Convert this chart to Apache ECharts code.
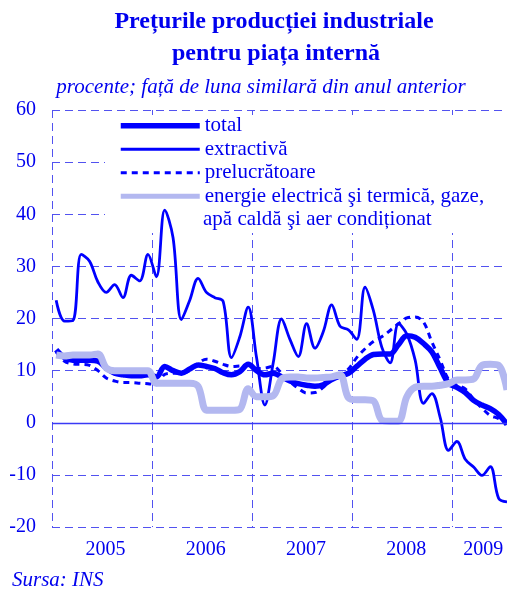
<!DOCTYPE html>
<html><head><meta charset="utf-8">
<script src="https://cdn.jsdelivr.net/npm/echarts@6/dist/echarts.min.js"></script>
<style>html,body{margin:0;padding:0;background:#fff}#c{width:507px;height:591px}</style>
</head><body><div id="c"></div>
<script>
const months = [
 '2005-01','2005-02','2005-03','2005-04','2005-05','2005-06','2005-07','2005-08','2005-09','2005-10','2005-11','2005-12',
 '2006-01','2006-02','2006-03','2006-04','2006-05','2006-06','2006-07','2006-08','2006-09','2006-10','2006-11','2006-12',
 '2007-01','2007-02','2007-03','2007-04','2007-05','2007-06','2007-07','2007-08','2007-09','2007-10','2007-11','2007-12',
 '2008-01','2008-02','2008-03','2008-04','2008-05','2008-06','2008-07','2008-08','2008-09','2008-10','2008-11','2008-12',
 '2009-01','2009-02','2009-03','2009-04','2009-05','2009-06','2009-07'];
const yearLabels = ['2005','2006','2007','2008','2009'];
const yTicks = [-20,-10,0,10,20,30,40,50,60];

const total = [14,12.5,12,12,12,11.8,10.5,9.5,9.2,9.0,9.0,9.2,
 8.8,10.8,10,9.5,10.3,11.1,10.8,10.4,9.6,9.2,9.8,11.2,
 10,9.2,9.5,8.8,8.0,7.5,7.2,7.0,7.3,8.3,9.0,9.5,
 10.8,12.2,13.1,13.2,13.2,15,16.7,16.4,15.2,13.6,10.5,7.6,
 6.8,5.8,4.3,3.4,2.7,1.6,-0.3];
const extractiva = [23.5,19.5,19.6,32.3,31,27,25,26.5,24,28.3,27.2,32.3,
 28,40.8,35.5,19.8,23.5,27.7,25,24,23.3,12.5,16.5,22.2,
 12.5,3.4,11.5,19.9,16,12.7,19,14.3,17.5,22.6,18.5,17.8,
 16,26,21.5,14.5,11.5,19,17,12,3.7,5.6,1,-5.3,
 -3.6,-7,-8.5,-10.1,-8.4,-14.5,-15.2];
const prelucratoare = [13.6,11.8,11.3,11.2,11,10,8.6,8,7.7,7.7,7.6,7.5,
 7.3,9.3,9.5,9.5,10,11.4,12.2,11.8,11.2,10.8,10.9,11,
 10.4,10.5,10.8,9.5,7.9,6.6,5.7,5.8,6.8,8.2,9.2,10.3,
 12.5,14.2,15.6,16.5,17.7,19,20.1,20.3,19.3,15.5,12,8.3,
 7.2,6.5,4.5,2.8,1.4,0.8,-0.3];
const energie = [13,12.8,13,13,13,13.2,10.5,10,10,10,10,10,
 7.6,7.6,7.6,7.6,7.6,7,2.4,2.4,2.4,2.4,2.6,6.5,
 5,5,5.2,8.4,8.8,8.8,8.6,8.6,8.7,8.8,9.2,4.8,
 4.4,4.4,4.2,0.5,0.3,0.3,5,6.8,7,7,7.2,7.5,
 8.2,8.2,8.4,11,11.2,11,6.3];

const names = ['total','extractivă','prelucrătoare','energie electrică şi termică, gaze,\napă caldă şi aer condiționat'];

const FONT = "'Liberation Serif','Times New Roman',serif";
const BLUE = '#0000ff';
const TXT = '#0000ee';
const GRIDC = '#5252f0';
const ENERGY = '#b3b8f0';
const xMax = months.length - 0.5;
const pts = arr => arr.map((v,i)=>[i+0.5, v]);
const yearPos = yearLabels.map(y => {
  const idx = months.map((m,i)=>m.startsWith(y)?i:-1).filter(i=>i>=0);
  return (idx[0] + Math.min(idx[idx.length-1]+1, xMax))/2;
});
const energyLines = names[3].split('\n');

const chart = echarts.init(document.getElementById('c'), null, {renderer:'canvas'});
chart.setOption({
  animation:false,
  backgroundColor:'#fff',
  grid:{left:52, right:0, top:110, bottom:64, containLabel:false},
  xAxis:{type:'value', min:0, max:xMax, interval:12,
    axisLine:{show:false}, axisTick:{show:false},
    splitLine:{show:true, lineStyle:{type:[8,5], color:GRIDC, width:1}},
    axisLabel:{customValues:yearPos, formatter:v=>yearLabels[yearPos.indexOf(v)],
      color:TXT, fontFamily:FONT, fontSize:20, margin:13, padding:[0,0,0,7]}},
  yAxis:{type:'value', min:yTicks[0], max:yTicks[yTicks.length-1], interval:10,
    axisLine:{show:false}, axisTick:{show:false},
    axisLabel:{color:TXT, fontFamily:FONT, fontSize:20, margin:16},
    splitLine:{show:true, lineStyle:{type:[8,5], color:GRIDC, width:1}}},
  legend:{
    data:[names[0], names[1], names[2], {name:names[3], lineStyle:{width:5}}],
    orient:'vertical', left:118, top:114, padding:0, itemGap:0,
    itemWidth:79, itemHeight:14,
    formatter: n => n.split('\n')[0],
    textStyle:{fontFamily:FONT, fontSize:21, color:TXT, lineHeight:23.5},
    lineStyle:{width:'inherit'}, itemStyle:{opacity:0, borderWidth:0}, selectedMode:false},
  graphic:[
    {type:'rect', shape:{x:105, y:115, width:402, height:118}, style:{fill:'#fff'}, z:1, silent:true},
    {type:'text', x:274, y:22, style:{text:'Prețurile producției industriale', font:'bold 24px '+FONT, fill:TXT, textAlign:'center', textVerticalAlign:'middle'}},
    {type:'text', x:276, y:54, style:{text:'pentru piața internă', font:'bold 24px '+FONT, fill:TXT, textAlign:'center', textVerticalAlign:'middle'}},
    {type:'text', x:261, y:87, style:{text:'procente; față de luna similară din anul anterior', font:'italic 21px '+FONT, fill:TXT, textAlign:'center', textVerticalAlign:'middle'}},
    {type:'text', x:203, y:219.5, z:5, style:{text:energyLines[1], font:'21px '+FONT, fill:TXT, textAlign:'left', textVerticalAlign:'middle'}},
    {type:'text', x:12, y:580, style:{text:'Sursa: INS', font:'italic 21px '+FONT, fill:TXT, textAlign:'left', textVerticalAlign:'middle'}}
  ],
  series:[
    {name:names[0], type:'line', data:pts(total), symbol:'none', smooth:0.35, z:3,
     lineStyle:{color:BLUE, width:5.5}, itemStyle:{color:BLUE},
     markLine:{silent:true, symbol:['none','none'], label:{show:false}, data:[{yAxis:0}],
       lineStyle:{type:'solid', color:'#3a3af5', width:1.3}}},
    {name:names[1], type:'line', data:pts(extractiva), symbol:'none', smooth:0.35, z:3,
     lineStyle:{color:BLUE, width:2.8}, itemStyle:{color:BLUE}},
    {name:names[2], type:'line', data:pts(prelucratoare), symbol:'none', smooth:0.35, z:3,
     lineStyle:{color:BLUE, width:3, type:[6,5]}, itemStyle:{color:BLUE}},
    {name:names[3], type:'line', data:pts(energie), symbol:'none', smooth:0.35, z:3,
     lineStyle:{color:ENERGY, width:7}, itemStyle:{color:ENERGY}}
  ]
});
</script></body></html>
